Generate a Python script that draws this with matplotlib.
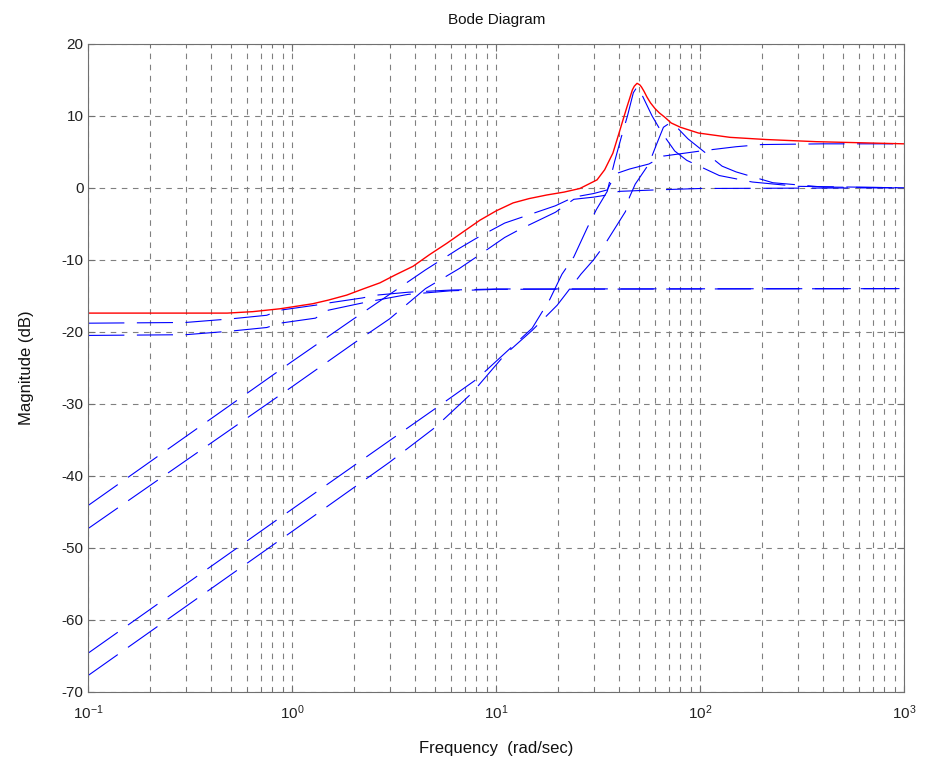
import matplotlib
matplotlib.use("Agg")
import matplotlib.pyplot as plt

# frequencies (rad/sec) and magnitudes (dB)

red_w = [0.1, 0.48, 0.64, 0.87, 1.26, 1.5, 1.85, 2.2, 2.69, 3.2, 3.91, 4.7, 5.73, 6.9, 8.32,
         10.0, 12.1, 14.5, 17.7, 21.5, 25.7, 31.2, 34.0, 37.3, 40.0, 42.0, 43.7, 46.5, 47.5,
         49.0, 50.5, 51.5, 53.0, 54.8, 57.0, 60.0, 63.0, 67.0, 72.0, 80.0, 98.0,
         140, 210, 370, 1000]
red_db = [-17.4, -17.4, -17.2, -16.8, -16.1, -15.6, -14.9, -14.1, -13.2, -12.1, -10.9, -9.3, -7.7, -6.1, -4.5,
          -3.2, -2.1, -1.5, -1.0, -0.6, -0.1, 1.1, 2.5, 4.8, 7.6, 9.6, 11.2, 13.6, 14.1,
          14.5, 14.3, 14.0, 13.4, 12.6, 11.8, 11.0, 10.4, 9.8, 9.0, 8.4, 7.6,
          7.0, 6.7, 6.4, 6.1]

# low-frequency flat pair, both settling at -14 dB
b1_w = [0.1, 0.3, 0.5, 0.75, 0.87, 1.3, 1.5, 2.2, 2.6, 3.7, 6.0, 10.0, 1000]
b1_db = [-18.8, -18.7, -18.2, -17.7, -17.0, -16.3, -16.0, -15.3, -14.9, -14.5, -14.2, -14.05, -14.0]
b2_w = [0.1, 0.3, 0.5, 0.75, 0.87, 1.3, 1.5, 2.2, 2.6, 3.7, 6.0, 10.0, 1000]
b2_db = [-20.5, -20.4, -19.9, -19.4, -18.8, -18.1, -17.0, -16.0, -15.6, -14.8, -14.3, -14.1, -14.0]

# 20 dB/dec pair starting near -44 / -47 dB
b3_w = [0.1, 1.0, 2.0, 3.0, 4.5, 6.6, 8.0, 11.0, 13.0, 19.5, 24.0, 30.0, 35.0, 37.0, 39.0,
        45.0, 56.0, 66.0, 100, 150, 200, 400, 1000]
b3_db = [-44.1, -24.1, -18.2, -14.8, -11.4, -8.4, -7.0, -4.9, -4.2, -2.5, -1.3, -0.8, -0.3, 1.0, 2.0,
         2.6, 3.3, 4.4, 5.1, 5.7, 6.0, 6.1, 6.1]
b4_w = [0.1, 1.0, 2.0, 3.0, 4.5, 6.6, 8.0, 11.0, 13.0, 19.5, 24.0, 30.0, 35.0, 40.0, 60.0, 100, 1000]
b4_db = [-47.3, -27.6, -21.6, -18.2, -14.0, -11.2, -9.6, -6.9, -5.8, -3.4, -1.6, -1.3, -1.0, -0.5,
         -0.3, -0.1, 0.0]

# 20 dB/dec pair starting near -65 / -68 dB, resonant near 50 and 70 rad/sec
b5_w = [0.1, 1.0, 3.0, 5.0, 8.0, 11.0, 15.0, 18.3, 21.0, 24.0, 28.0, 31.0, 35.0, 38.0, 41.0,
        44.0, 47.0, 49.0, 52.0, 58.0, 65.0, 75.0, 86.0, 124, 180, 300, 1000]
b5_db = [-64.6, -44.6, -35.1, -30.7, -26.6, -23.0, -19.5, -15.5, -12.0, -9.6, -5.5, -3.0, -0.5, 3.6, 7.0,
         10.0, 13.2, 14.0, 12.8, 10.0, 7.6, 5.1, 3.8, 1.7, 0.8, 0.2, 0.0]
b6_w = [0.1, 1.0, 3.0, 5.0, 7.6, 11.0, 15.0, 19.9, 22.0, 26.0, 30.0, 34.0, 43.0, 45.0, 48.0,
        56.0, 61.0, 66.0, 71.0, 78.0, 87.0, 128, 150, 227, 400, 1000]
b6_db = [-67.7, -47.7, -38.1, -33.3, -28.5, -23.2, -19.8, -16.3, -14.7, -12.0, -10.0, -7.9, -3.3, -1.3,
         0.5, 3.3, 6.0, 8.4, 9.0, 8.2, 6.8, 3.0, 2.2, 0.7, 0.1, 0.0]

blue_curves = [(b1_w, b1_db), (b2_w, b2_db), (b3_w, b3_db),
               (b4_w, b4_db), (b5_w, b5_db), (b6_w, b6_db)]

y_ticks = list(range(-70, 21, 10))

plt.rcParams.update({
    "font.family": ["Liberation Sans", "DejaVu Sans"],
    "mathtext.fontset": "custom",
    "mathtext.rm": "Liberation Sans",
    "mathtext.it": "Liberation Sans",
    "mathtext.default": "regular",
    "axes.unicode_minus": False,
    "lines.scale_dashes": False,
})

fig = plt.figure(figsize=(9.32, 7.71), dpi=100)
ax = fig.add_axes([0.0947, 0.1025, 0.8755, 0.8408])

for w, db in blue_curves:
    ax.semilogx(w, db, color="#0000ff", linewidth=0.8, dashes=(26, 9))
ax.semilogx(red_w, red_db, color="#ff0000", linewidth=1.0)

ax.set_xlim(0.1, 1000)
ax.set_ylim(-70, 20)
ax.set_yticks(y_ticks)

ax.grid(True, which="major", axis="both", color="#808080", linestyle=(0, (4, 4)), linewidth=0.8)
ax.grid(True, which="minor", axis="x", color="#808080", linestyle=(0, (4, 4)), linewidth=0.8)
ax.set_axisbelow(True)

for side in ax.spines.values():
    side.set_color("#707070")
ax.tick_params(which="both", direction="in", top=True, right=True, colors="#707070",
               labelcolor="#222222", labelsize=11)
ax.tick_params(which="major", length=5)
ax.tick_params(which="minor", length=3)
ax.tick_params(axis="x", which="major", pad=8)

ax.set_title("Bode Diagram", fontsize=11, color="#111111", pad=14)
ax.set_xlabel("Frequency  (rad/sec)", fontsize=12, color="#111111", labelpad=14)
ax.set_ylabel("Magnitude (dB)", fontsize=12, color="#111111", labelpad=20)

fig.savefig("out.png", dpi=100)
